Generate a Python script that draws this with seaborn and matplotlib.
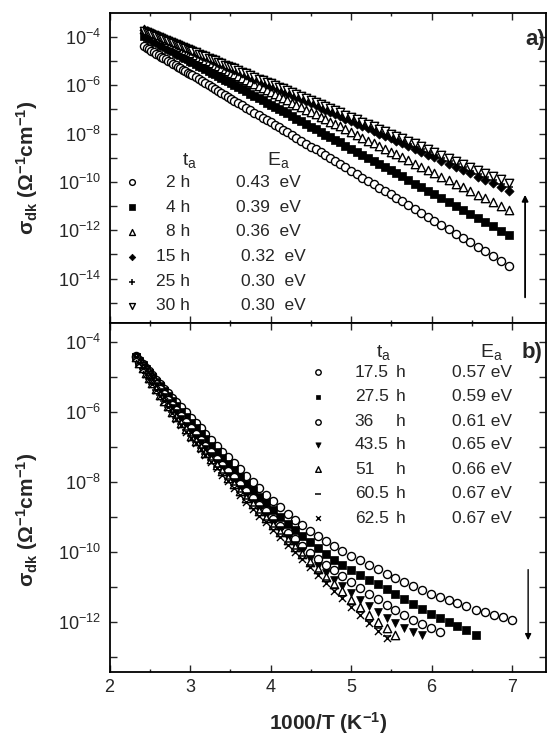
import numpy as np
import matplotlib
matplotlib.use('Agg')
import matplotlib.pyplot as plt
import seaborn as sns
from matplotlib.ticker import LogLocator, FuncFormatter, MultipleLocator, NullLocator

# panel a) : 1000/T grid and log10(sigma_dk) per annealing time
x_top = [2.43, 2.46, 2.49, 2.52, 2.55, 2.58, 2.61, 2.64, 2.67, 2.70,
         2.73, 2.76, 2.79, 2.82, 2.85, 2.88, 2.91, 2.94, 2.97, 3.00, 3.03,
         3.07, 3.11, 3.15, 3.19, 3.23, 3.27, 3.31, 3.35, 3.39, 3.43, 3.47, 3.51, 3.55,
         3.60, 3.65, 3.70, 3.75, 3.80, 3.85, 3.90, 3.95, 4.00, 4.05, 4.10, 4.15, 4.20,
         4.26, 4.32, 4.38, 4.44, 4.50, 4.56, 4.62, 4.68, 4.74, 4.80, 4.86,
         4.93, 5.00, 5.07, 5.14, 5.21, 5.28, 5.35, 5.42, 5.49, 5.56, 5.63,
         5.71, 5.79, 5.87, 5.95, 6.03,
         6.12, 6.21, 6.30, 6.39, 6.48, 6.57, 6.66, 6.76, 6.86, 6.96]
log_2h = [-4.40, -4.46, -4.52, -4.58, -4.64, -4.70, -4.76, -4.82, -4.88, -4.94,
          -5.00, -5.06, -5.12, -5.18, -5.24, -5.30, -5.36, -5.42, -5.48, -5.54, -5.60,
          -5.68, -5.76, -5.84, -5.92, -6.00, -6.08, -6.16, -6.24, -6.32, -6.40, -6.48, -6.56, -6.64,
          -6.74, -6.84, -6.94, -7.04, -7.14, -7.24, -7.34, -7.44, -7.54, -7.64, -7.74, -7.84, -7.94,
          -8.06, -8.18, -8.30, -8.42, -8.54, -8.66, -8.78, -8.90, -9.02, -9.14, -9.26,
          -9.40, -9.54, -9.68, -9.82, -9.96, -10.10, -10.24, -10.38, -10.52, -10.66, -10.80,
          -10.96, -11.12, -11.28, -11.44, -11.60,
          -11.78, -11.96, -12.14, -12.32, -12.50, -12.68, -12.86, -13.06, -13.26, -13.46]
log_4h = [-3.95, -4.00, -4.06, -4.11, -4.17, -4.22, -4.28, -4.33, -4.39, -4.44,
          -4.50, -4.55, -4.61, -4.66, -4.71, -4.77, -4.82, -4.88, -4.93, -4.99, -5.04,
          -5.11, -5.19, -5.26, -5.33, -5.41, -5.48, -5.55, -5.62, -5.70, -5.77, -5.84, -5.92, -5.99,
          -6.08, -6.17, -6.26, -6.35, -6.44, -6.53, -6.63, -6.72, -6.81, -6.90, -6.99, -7.08, -7.17,
          -7.28, -7.39, -7.50, -7.61, -7.72, -7.83, -7.94, -8.05, -8.15, -8.26, -8.37,
          -8.50, -8.63, -8.75, -8.88, -9.01, -9.14, -9.26, -9.39, -9.52, -9.65, -9.77,
          -9.92, -10.07, -10.21, -10.36, -10.50,
          -10.67, -10.83, -10.99, -11.16, -11.32, -11.48, -11.65, -11.83, -12.01, -12.19]
log_8h = [-3.70, -3.75, -3.80, -3.85, -3.90, -3.95, -4.00, -4.05, -4.10, -4.15,
          -4.20, -4.24, -4.29, -4.34, -4.39, -4.44, -4.49, -4.54, -4.59, -4.64, -4.69,
          -4.76, -4.82, -4.89, -4.95, -5.02, -5.09, -5.15, -5.22, -5.28, -5.35, -5.42, -5.48, -5.55,
          -5.63, -5.71, -5.80, -5.88, -5.96, -6.04, -6.13, -6.21, -6.29, -6.37, -6.46, -6.54, -6.62,
          -6.72, -6.82, -6.92, -7.02, -7.12, -7.21, -7.31, -7.41, -7.51, -7.61, -7.71,
          -7.83, -7.94, -8.06, -8.17, -8.29, -8.40, -8.52, -8.63, -8.75, -8.86, -8.98,
          -9.11, -9.24, -9.38, -9.51, -9.64,
          -9.79, -9.94, -10.09, -10.23, -10.38, -10.53, -10.68, -10.84, -11.01, -11.17]
log_15h = [-3.72, -3.76, -3.81, -3.85, -3.90, -3.94, -3.98, -4.03, -4.07, -4.12,
           -4.16, -4.20, -4.25, -4.29, -4.34, -4.38, -4.42, -4.47, -4.51, -4.56, -4.60,
           -4.66, -4.72, -4.78, -4.83, -4.89, -4.95, -5.01, -5.07, -5.13, -5.19, -5.24, -5.30, -5.36,
           -5.43, -5.51, -5.58, -5.65, -5.73, -5.80, -5.87, -5.95, -6.02, -6.09, -6.17, -6.24, -6.31,
           -6.40, -6.49, -6.58, -6.67, -6.75, -6.84, -6.93, -7.02, -7.10, -7.19, -7.28,
           -7.38, -7.49, -7.59, -7.69, -7.79, -7.90, -8.00, -8.10, -8.20, -8.31, -8.41,
           -8.53, -8.64, -8.76, -8.88, -8.99,
           -9.13, -9.26, -9.39, -9.52, -9.65, -9.79, -9.92, -10.06, -10.21, -10.36]
log_25h = [-3.74, -3.78, -3.83, -3.87, -3.91, -3.95, -4.00, -4.04, -4.08, -4.13,
           -4.17, -4.21, -4.25, -4.30, -4.34, -4.38, -4.43, -4.47, -4.51, -4.56, -4.60,
           -4.66, -4.71, -4.77, -4.83, -4.88, -4.94, -5.00, -5.06, -5.11, -5.17, -5.23, -5.28, -5.34,
           -5.41, -5.48, -5.56, -5.63, -5.70, -5.77, -5.84, -5.91, -5.99, -6.06, -6.13, -6.20, -6.27,
           -6.36, -6.44, -6.53, -6.61, -6.70, -6.79, -6.87, -6.96, -7.04, -7.13, -7.21,
           -7.32, -7.42, -7.52, -7.62, -7.72, -7.82, -7.92, -8.02, -8.12, -8.22, -8.32,
           -8.43, -8.54, -8.66, -8.77, -8.89,
           -9.02, -9.15, -9.27, -9.40, -9.53, -9.66, -9.79, -9.93, -10.07, -10.22]
log_30h = [-3.76, -3.80, -3.84, -3.88, -3.93, -3.97, -4.01, -4.05, -4.09, -4.13,
           -4.18, -4.22, -4.26, -4.30, -4.34, -4.38, -4.42, -4.47, -4.51, -4.55, -4.59,
           -4.65, -4.70, -4.76, -4.81, -4.87, -4.92, -4.98, -5.03, -5.09, -5.15, -5.20, -5.26, -5.31,
           -5.38, -5.45, -5.52, -5.59, -5.66, -5.73, -5.80, -5.87, -5.93, -6.00, -6.07, -6.14, -6.21,
           -6.29, -6.38, -6.46, -6.54, -6.63, -6.71, -6.79, -6.88, -6.96, -7.04, -7.13,
           -7.22, -7.32, -7.42, -7.51, -7.61, -7.71, -7.80, -7.90, -8.00, -8.10, -8.19,
           -8.30, -8.41, -8.52, -8.64, -8.75,
           -8.87, -9.00, -9.12, -9.24, -9.37, -9.49, -9.62, -9.76, -9.90, -10.03]

# panel b)
x_bot = [2.33, 2.37, 2.41, 2.45, 2.49, 2.53, 2.58, 2.63, 2.68, 2.73,
         2.78, 2.83, 2.89, 2.95, 3.01, 3.07, 3.13, 3.19, 3.26, 3.33,
         3.40, 3.47, 3.54, 3.62, 3.70, 3.78, 3.86, 3.94, 4.03, 4.12,
         4.21, 4.30, 4.39, 4.49, 4.59, 4.69, 4.79, 4.89, 5.00, 5.11,
         5.22, 5.33, 5.44, 5.55, 5.66, 5.77, 5.88, 5.99, 6.10, 6.21,
         6.32, 6.43, 6.55, 6.66, 6.77, 6.88, 7.00]
log_175h = [-4.42, -4.53, -4.64, -4.75, -4.85, -4.96, -5.09, -5.21, -5.34, -5.47,
            -5.60, -5.72, -5.87, -6.02, -6.18, -6.33, -6.48, -6.63, -6.80, -6.97,
            -7.14, -7.31, -7.47, -7.65, -7.84, -8.02, -8.19, -8.37, -8.56, -8.74,
            -8.92, -9.09, -9.24, -9.41, -9.56, -9.71, -9.85, -9.98, -10.12, -10.25,
            -10.38, -10.51, -10.63, -10.75, -10.87, -10.99, -11.10, -11.21, -11.30, -11.39,
            -11.48, -11.56, -11.66, -11.74, -11.81, -11.88, -11.96]
log_275h = [-4.43, -4.55, -4.66, -4.78, -4.89, -5.00, -5.14, -5.28, -5.42, -5.56,
            -5.70, -5.84, -6.00, -6.16, -6.33, -6.48, -6.64, -6.79, -6.98, -7.15,
            -7.33, -7.50, -7.68, -7.87, -8.06, -8.25, -8.43, -8.61, -8.81, -9.00,
            -9.20, -9.38, -9.55, -9.74, -9.91, -10.08, -10.23, -10.37, -10.52, -10.66,
            -10.80, -10.94, -11.08, -11.22, -11.36, -11.49, -11.63, -11.77, -11.89, -12.02,
            -12.13, -12.25, -12.38]
log_36h = [-4.44, -4.57, -4.69, -4.81, -4.94, -5.06, -5.21, -5.36, -5.51, -5.66,
           -5.81, -5.95, -6.13, -6.30, -6.48, -6.64, -6.80, -6.97, -7.16, -7.34,
           -7.52, -7.70, -7.88, -8.08, -8.28, -8.47, -8.66, -8.85, -9.06, -9.26,
           -9.46, -9.65, -9.83, -10.03, -10.21, -10.38, -10.54, -10.70, -10.87, -11.04,
           -11.20, -11.36, -11.52, -11.67, -11.81, -11.95, -12.07, -12.19, -12.31]
log_435h = [-4.45, -4.58, -4.72, -4.85, -4.99, -5.11, -5.27, -5.43, -5.58, -5.74,
            -5.89, -6.04, -6.22, -6.40, -6.58, -6.75, -6.91, -7.08, -7.28, -7.46,
            -7.65, -7.83, -8.01, -8.21, -8.41, -8.60, -8.79, -8.98, -9.19, -9.39,
            -9.60, -9.80, -9.99, -10.20, -10.40, -10.60, -10.80, -10.98, -11.19, -11.37,
            -11.55, -11.72, -11.89, -12.04, -12.17, -12.29, -12.38]
log_51h = [-4.45, -4.60, -4.75, -4.90, -5.05, -5.19, -5.36, -5.52, -5.69, -5.85,
           -6.01, -6.16, -6.33, -6.51, -6.69, -6.85, -7.01, -7.17, -7.36, -7.53,
           -7.71, -7.89, -8.07, -8.26, -8.46, -8.65, -8.84, -9.03, -9.24, -9.45,
           -9.66, -9.86, -10.06, -10.29, -10.50, -10.72, -10.93, -11.14, -11.37, -11.59,
           -11.80, -12.00, -12.19, -12.38]
log_605h = [-4.45, -4.60, -4.76, -4.91, -5.06, -5.20, -5.37, -5.53, -5.70, -5.86,
            -6.02, -6.17, -6.35, -6.53, -6.71, -6.87, -7.03, -7.20, -7.39, -7.57,
            -7.75, -7.93, -8.11, -8.31, -8.51, -8.70, -8.89, -9.09, -9.30, -9.51,
            -9.73, -9.93, -10.14, -10.37, -10.59, -10.82, -11.04, -11.26, -11.50, -11.73,
            -11.97, -12.19, -12.42]
log_625h = [-4.45, -4.61, -4.76, -4.92, -5.07, -5.21, -5.38, -5.55, -5.71, -5.88,
            -6.04, -6.20, -6.38, -6.57, -6.75, -6.91, -7.08, -7.24, -7.44, -7.62,
            -7.81, -7.99, -8.17, -8.37, -8.57, -8.77, -8.97, -9.16, -9.38, -9.59,
            -9.81, -10.01, -10.22, -10.45, -10.67, -10.90, -11.12, -11.34, -11.58, -11.81,
            -12.04, -12.26, -12.47]

times_a = ['2 h', '4 h', '8 h', '15 h', '25 h', '30 h']
ea_a = ['0.43  eV', '0.39  eV', '0.36  eV', '0.32  eV', '0.30  eV', '0.30  eV']
times_b = ['17.5', '27.5', '36', '43.5', '51', '60.5', '62.5']
ea_b = ['0.57 eV', '0.59 eV', '0.61 eV', '0.65 eV', '0.66 eV', '0.67 eV', '0.67 eV']

# marker styles
open_o = dict(marker='o', color='white', edgecolor='black', linewidth=1.0, s=34)
fill_s = dict(marker='s', color='black', edgecolor='black', linewidth=0.5, s=26)
open_up = dict(marker='^', color='white', edgecolor='black', linewidth=1.0, s=36)
fill_d = dict(marker='D', color='black', edgecolor='black', linewidth=0.5, s=22)
plus = dict(marker='+', color='black', linewidth=1.1, s=38)
open_dn = dict(marker='v', color='white', edgecolor='black', linewidth=1.0, s=36)
fill_dn = dict(marker='v', color='black', edgecolor='black', linewidth=0.5, s=32)
dash = dict(marker='_', color='black', linewidth=1.1, s=32)
cross = dict(marker='x', color='black', linewidth=1.0, s=26)

series_a = [(log_2h, open_o), (log_4h, fill_s), (log_8h, open_up),
            (log_15h, fill_d), (log_25h, plus), (log_30h, open_dn)]
series_b = [(log_175h, open_o), (log_275h, fill_s), (log_36h, open_o),
            (log_435h, fill_dn), (log_51h, open_up), (log_605h, dash), (log_625h, cross)]

sns.set_style('ticks')
plt.rcParams['font.family'] = ['Liberation Sans', 'DejaVu Sans']
plt.rcParams['mathtext.fontset'] = 'custom'
plt.rcParams['mathtext.rm'] = 'Liberation Sans'
plt.rcParams['mathtext.it'] = 'Liberation Sans:italic'
plt.rcParams['mathtext.bf'] = 'Liberation Sans:bold'

fig = plt.figure(figsize=(5.49, 7.39), dpi=100)
ax1 = fig.add_axes([0.1995, 0.5633, 0.7951, 0.4191])
ax2 = fig.add_axes([0.1995, 0.0907, 0.7951, 0.4726])


def ytick_fmt(v, pos):
    e = int(round(np.log10(v)))
    return r'$\mathrm{10^{%d}}$' % e if e % 2 == 0 else ''


for ax, xs, series in [(ax1, x_top, series_a), (ax2, x_bot, series_b)]:
    for logs, st in series:
        n = len(logs)
        sns.scatterplot(x=xs[:n], y=10.0 ** np.array(logs), ax=ax, legend=False, **st)
    ax.set_yscale('log')
    ax.set_xlim(2, 7.42)
    ax.yaxis.set_major_locator(LogLocator(base=10, subs=(1.0,), numticks=30))
    ax.yaxis.set_minor_locator(NullLocator())
    ax.yaxis.set_major_formatter(FuncFormatter(ytick_fmt))
    ax.xaxis.set_major_locator(MultipleLocator(1))
    ax.xaxis.set_minor_locator(MultipleLocator(0.5))
    ax.tick_params(which='both', direction='in', top=True, right=True,
                   labelsize=13, width=1.0)
    ax.tick_params(which='major', length=5)
    ax.tick_params(which='minor', length=2.5)
    ax.tick_params(axis='y', pad=6)
    ax.tick_params(axis='x', pad=5)
    for sp in ax.spines.values():
        sp.set_linewidth(1.3)
        sp.set_color('black')
    ax.set_xlabel('')
    ax.set_ylabel(r'$\mathbf{\sigma_{dk}\ (\Omega^{-1}cm^{-1})}$', fontsize=15)

ax1.set_ylim(10 ** -15.82, 10 ** -3.02)
ax2.set_ylim(10 ** -13.44, 10 ** -3.46)
ax1.tick_params(labelbottom=False)
ax1.yaxis.set_label_coords(-0.16, 0.5)
ax2.yaxis.set_label_coords(-0.16, 0.435)
ax2.set_xlabel(r'$\mathbf{1000/T\ (K^{-1})}$', fontsize=15, labelpad=10)

# panel labels
ax1.text(0.975, 0.916, 'a)', transform=ax1.transAxes, fontsize=16,
         fontweight='bold', ha='center', va='center')
ax2.text(0.968, 0.916, 'b)', transform=ax2.transAxes, fontsize=16,
         fontweight='bold', ha='center', va='center')

# legend of panel a)
rows_a = [0.453, 0.373, 0.294, 0.213, 0.132, 0.054]
ax1.text(0.184, 0.525, r'$\mathrm{t_a}$', transform=ax1.transAxes, fontsize=14,
         ha='center', va='center')
ax1.text(0.386, 0.525, r'$\mathrm{E_a}$', transform=ax1.transAxes, fontsize=14,
         ha='center', va='center')
for (logs, st), ry, t, e, ex in zip(series_a, rows_a, times_a, ea_a,
                                    [0.290, 0.290, 0.290, 0.301, 0.301, 0.301]):
    kw = dict(st)
    kw['s'] = kw['s'] * 0.5
    ax1.scatter([0.052], [ry], transform=ax1.transAxes, clip_on=False, zorder=5,
                marker=kw['marker'], c=kw['color'], edgecolors=kw.get('edgecolor', None),
                linewidths=kw['linewidth'], s=kw['s'])
    ax1.text(0.184, ry, t, transform=ax1.transAxes, fontsize=12.5,
             ha='right', va='center')
    ax1.text(ex, ry, e, transform=ax1.transAxes, fontsize=12.5,
             ha='left', va='center')

# legend of panel b)
rows_b = [0.858, 0.788, 0.717, 0.650, 0.580, 0.510, 0.440]
ax2.text(0.627, 0.916, r'$\mathrm{t_a}$', transform=ax2.transAxes, fontsize=14,
         ha='center', va='center')
ax2.text(0.876, 0.916, r'$\mathrm{E_a}$', transform=ax2.transAxes, fontsize=14,
         ha='center', va='center')
for (logs, st), ry, t, e in zip(series_b, rows_b, times_b, ea_b):
    kw = dict(st)
    kw['s'] = kw['s'] * 0.45
    ax2.scatter([0.478], [ry], transform=ax2.transAxes, clip_on=False, zorder=5,
                marker=kw['marker'], c=kw['color'], edgecolors=kw.get('edgecolor', None),
                linewidths=kw['linewidth'], s=kw['s'])
    ax2.text(0.562, ry, t, transform=ax2.transAxes, fontsize=12.5,
             ha='left', va='center')
    ax2.text(0.656, ry, 'h', transform=ax2.transAxes, fontsize=12.5,
             ha='left', va='center')
    ax2.text(0.785, ry, e, transform=ax2.transAxes, fontsize=12.5,
             ha='left', va='center')

# trend arrows
ax1.annotate('', xy=(0.952, 0.422), xytext=(0.952, 0.073), xycoords='axes fraction',
             arrowprops=dict(arrowstyle='-|>', lw=1.3, color='black', mutation_scale=9))
ax2.annotate('', xy=(0.959, 0.083), xytext=(0.959, 0.301), xycoords='axes fraction',
             arrowprops=dict(arrowstyle='-|>', lw=1.0, color='black', mutation_scale=9))

fig.savefig('out.png', dpi=100)
